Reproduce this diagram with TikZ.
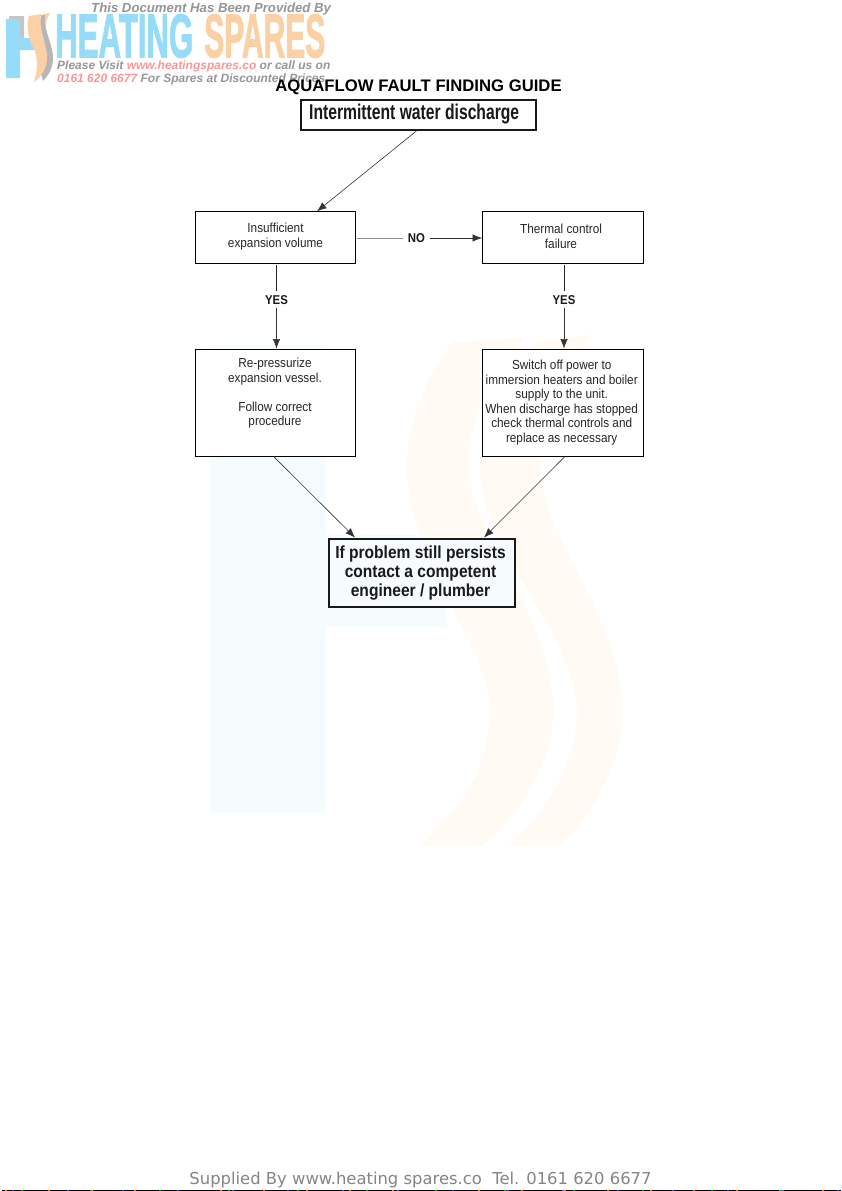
\documentclass[tikz,border=0pt]{standalone}
\usepackage{fontspec}
\setmainfont{Liberation Sans}
\newfontfamily\dejavu{DejaVu Sans}
\newfontfamily\cond[FakeStretch=0.9]{Liberation Sans}
\newfontfamily\condbf[FakeStretch=0.89]{Liberation Sans Bold}
\newfontfamily\logofont[FakeBold=2]{Liberation Sans Bold}
\usetikzlibrary{arrows.meta}
\definecolor{wmblue}{RGB}{246,251,254}
\definecolor{wmorange}{RGB}{255,250,243}
\definecolor{lgblue}{RGB}{150,220,248}
\definecolor{lgorange}{RGB}{252,208,165}
\definecolor{lggray}{RGB}{150,150,150}
\definecolor{lgred}{RGB}{252,150,150}
\tikzset{
 x=1pt,y=-1pt,
 thinbox/.style={draw=black,line width=0.9pt,fill=white,inner sep=0pt,minimum width=160pt},
 bodytext/.style={inner sep=0pt,align=center,font=\cond\fontsize{13.1}{14.5}\selectfont,text=black!85},
 thickbox/.style={draw=black!90,line width=2pt,inner sep=0pt,align=center},
 conn/.style={draw=black!80,line width=0.6pt,-{Latex[length=9.5pt,width=7.5pt]}},
 stem/.style={draw=black!85,line width=0.6pt},
 lbl/.style={font=\condbf\fontsize{12.8}{13}\selectfont,inner sep=0pt,text=black!90},
 pl/.style={font=\bfseries\itshape\fontsize{12}{13}\selectfont,inner sep=0pt,anchor=west},
}
\begin{document}
\begin{tikzpicture}
\useasboundingbox (0,0) rectangle (841,1191);
\fill[white] (0,0) rectangle (841,1191);
% watermark
\fill[wmblue] (210,345) -- (326,345) -- (326,813) -- (210,813) -- cycle;
\fill[wmblue] (326,535) -- (436,535) -- (447,627) -- (326,627) -- cycle;
\fill[wmorange] (453,342) -- (525,338) .. controls (490,380) and (466,420) .. (468,470) .. controls (470,530) and (553,620) .. (553,710) .. controls (553,770) and (515,815) .. (483,846) -- (420,846) .. controls (460,810) and (490,770) .. (490,710) .. controls (490,650) and (410,560) .. (407,470) .. controls (406,420) and (430,370) .. (453,342) -- cycle;
\fill[wmorange] (537,342) -- (592,335) .. controls (560,380) and (538,420) .. (540,470) .. controls (543,540) and (622,620) .. (622,710) .. controls (622,770) and (590,815) .. (560,846) -- (510,846) .. controls (545,810) and (577,770) .. (577,710) .. controls (577,640) and (483,550) .. (480,470) .. controls (479,420) and (515,370) .. (537,342) -- cycle;
% logo
\fill[lggray!55] (9,16) -- (24,16) -- (24,38) -- (20,38) -- (20,19) -- (9,19) -- cycle;
\fill[lgblue] (6,19) -- (20,19) -- (20,38) -- (31,38) -- (34,50) -- (20,50) -- (20,78) -- (6,78) -- cycle;
\fill[lgorange] (43,14) -- (50,13) .. controls (47,18) and (46,22) .. (46,26) -- (41,26) -- cycle;
\fill[lggray!70] (41,15) -- (45,15) .. controls (43,30) and (54,46) .. (53,60) .. controls (52,70) and (48,76) .. (43,81) -- (40,70) -- (44,60) -- (38,38) -- cycle;
\fill[lgorange] (29,16) -- (41,14) .. controls (38,30) and (48,45) .. (47,60) .. controls (46,70) and (40,78) .. (34,82) .. controls (38,70) and (38,55) .. (33,47) .. controls (28,38) and (26,25) .. (29,16) -- cycle;
\node[inner sep=0pt,anchor=west,text=lgblue] (heat) at (55,36) {\resizebox{138pt}{43pt}{\logofont HEATING}};
\node[inner sep=0pt,anchor=west,text=lgorange] (spar) at (204,36) {\resizebox{121pt}{43pt}{\logofont SPARES}};
\node[pl,text=lggray,font=\bfseries\itshape\fontsize{13.2}{14}\selectfont] (prov) at (91,9.5) {This Document Has Been Provided By};
\node[pl] (visit) at (57,66) {\textcolor{lggray}{Please Visit} \textcolor{lgred}{www.heatingspares.co} \textcolor{lggray}{or call us on}};
\node[pl] (disc) at (57,79) {\textcolor{lgred}{0161 620 6677} \textcolor{lggray}{For Spares at Discounted Prices}};
% title
\node[inner sep=0pt,font=\bfseries\fontsize{16.7}{18}\selectfont,text=black] (title) at (418.5,87) {AQUAFLOW FAULT FINDING GUIDE};
% boxes
\node[thickbox,minimum width=235pt,minimum height=30pt,fill=white] (top) at (418,114.5) {};
\node[inner sep=0pt,anchor=west,text=black!90] (toptext) at (309,114.5) {\resizebox{210pt}{15.5pt}{\condbf Intermittent water discharge}};
\node[thinbox,minimum height=51.5pt] (ins) at (275.5,237.5) {};
\node[bodytext] (instext) at (275.5,236.5) {Insufficient\\expansion volume};
\node[thinbox,minimum width=161pt,minimum height=51.5pt] (therm) at (563,237.5) {};
\node[bodytext] (thermtext) at (561,236.5) {Thermal control\\failure};
\node[thinbox,minimum height=107pt,anchor=north] (rep) at (275.5,348.5) {};
\node[bodytext,anchor=north] (reptext) at (275,358) {Re-pressurize\\expansion vessel.\\[14.5pt]Follow correct\\procedure};
\node[thinbox,minimum width=161pt,minimum height=107pt,anchor=north] (sw) at (563,348.5) {};
\node[bodytext,anchor=north] (swtext) at (561.7,360) {Switch off power to\\immersion heaters and boiler\\supply to the unit.\\When discharge has stopped\\check thermal controls and\\replace as necessary};
\node[thickbox,fill=wmblue,minimum width=185.5pt,minimum height=68pt] (end) at (422,572.5) {};
\node[inner sep=0pt,align=center,font=\condbf\fontsize{17.5}{19.3}\selectfont,text=black!90] (endtext) at (420.5,573) {If problem still persists\\contact a competent\\engineer / plumber};
% labels
\node[lbl] (no) at (416.5,238) {NO};
\node[lbl] (yes1) at (276.5,300) {YES};
\node[lbl] (yes2) at (564,300) {YES};
% connectors
\draw[conn] ([xshift=-1pt]top.south) -- ([xshift=41.5pt]ins.north);
\draw[draw=black!45,line width=0.6pt,shorten <=1pt,shorten >=5pt] (ins.east |- no.west) -- (no.west);
\draw[conn,shorten <=5pt] (no.east) -- (therm.west |- no.east);
\draw[stem,shorten <=1pt,shorten >=4pt] (ins.south -| yes1.north) -- (yes1.north);
\draw[conn,shorten <=3pt] (yes1.south) -- (rep.north -| yes1.south);
\draw[stem,shorten <=1pt,shorten >=4pt] (therm.south -| yes2.north) -- (yes2.north);
\draw[conn,shorten <=3pt] (yes2.south) -- (sw.north -| yes2.south);
\draw[conn] ([xshift=-2pt]rep.south) -- ([xshift=-67pt]end.north);
\draw[conn] ([xshift=2pt]sw.south) -- ([xshift=62pt]end.north);
% footer
\node[inner sep=0pt,font=\dejavu\fontsize{16.4}{18}\selectfont,text=black!48] (foot) at (420.5,1180) {Supplied By www.heating spares.co\ \ Tel. 0161 620 6677};
% bottom edge
\fill[black] (2,1190) rectangle (841,1191);
\draw[orange,line width=1pt,dash pattern=on 2pt off 41pt] (5,1190.5) -- (841,1190.5);
\draw[blue!70,line width=1pt,dash pattern=on 2pt off 53pt] (12,1190.5) -- (841,1190.5);
\draw[green!70!black,line width=1pt,dash pattern=on 2pt off 67pt] (21,1190.5) -- (841,1190.5);
\end{tikzpicture}
\end{document}
